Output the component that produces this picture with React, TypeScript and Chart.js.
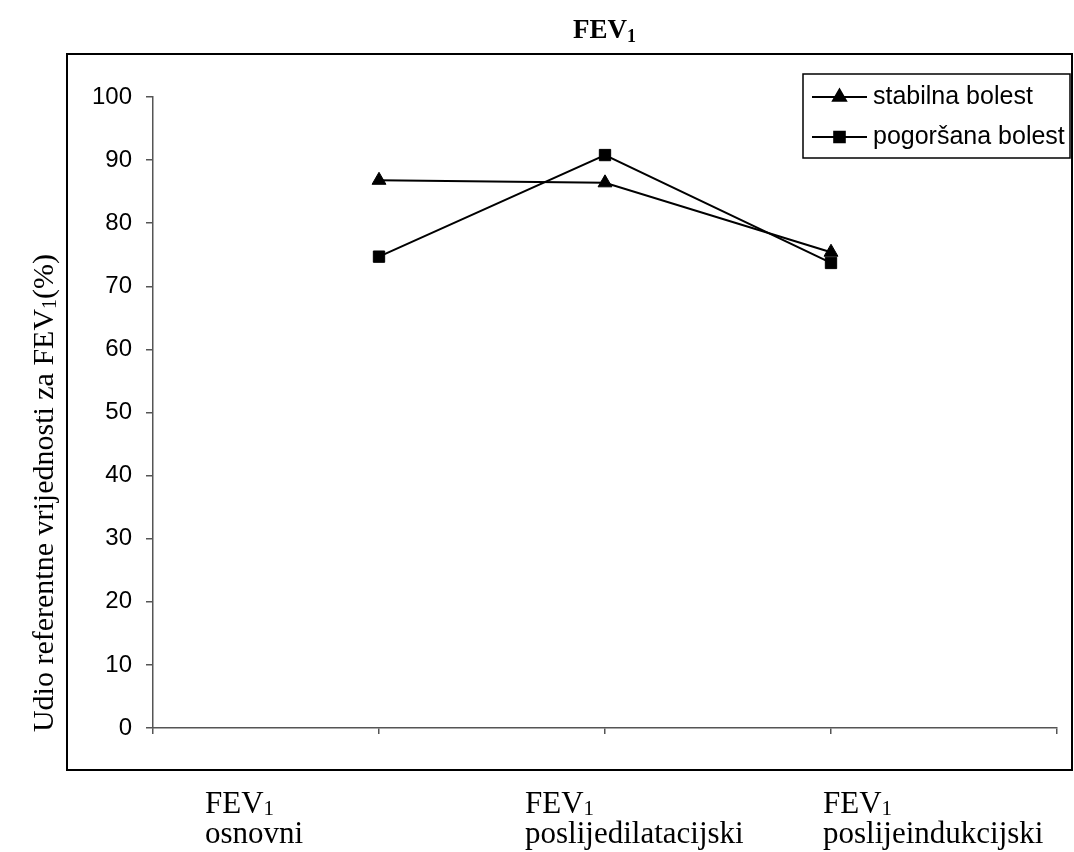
import React, { useEffect, useRef } from 'react';
import { Chart, registerables } from 'chart.js';
import { drawPoint } from 'chart.js/helpers';

Chart.register(...registerables);

// ---------- data ----------
const slots = ['', 'osnovni', 'poslijedilatacijski', 'poslijeindukcijski', ''];
const categoryNames = ['osnovni', 'poslijedilatacijski', 'poslijeindukcijski'];
const seriesNames = ['stabilna bolest', 'pogoršana bolest'];
const stabilna = [null, 86.8, 86.4, 75.4, null];
const pogorsana = [null, 74.7, 90.8, 73.7, null];
const yTickValues = [0, 10, 20, 30, 40, 50, 60, 70, 80, 90, 100];
const titleMain = 'FEV';
const subOne = '1';
const yTitleStart = 'Udio referentne vrijednosti za FEV';
const yTitleEnd = '(%)';

const SERIF = '"Liberation Serif", "Times New Roman", serif';
const SANS = '"Liberation Sans", Arial, sans-serif';

type Seg = { t: string; font: string; dy: number };

function segsWidth(ctx: CanvasRenderingContext2D, segs: Seg[]) {
  let w = 0;
  for (const s of segs) {
    ctx.font = s.font;
    w += ctx.measureText(s.t).width;
  }
  return w;
}

function drawSegs(ctx: CanvasRenderingContext2D, segs: Seg[], x: number, y: number) {
  let cx = x;
  for (const s of segs) {
    ctx.font = s.font;
    ctx.fillText(s.t, cx, y + s.dy);
    cx += ctx.measureText(s.t).width;
  }
}

const decorPlugin = {
  id: 'decor',
  afterDraw(chart: any) {
    const ctx: CanvasRenderingContext2D = chart.ctx;
    ctx.save();
    ctx.fillStyle = '#000';
    ctx.strokeStyle = '#000';

    // outer plot box
    ctx.lineWidth = 2;
    ctx.strokeRect(67, 54, 1005, 716);

    // title
    ctx.textAlign = 'left';
    ctx.textBaseline = 'alphabetic';
    drawSegs(ctx, [
      { t: titleMain, font: `bold 27px ${SERIF}`, dy: 0 },
      { t: subOne, font: `bold 18px ${SERIF}`, dy: 4 },
    ], 573, 38);

    // y axis title (rotated)
    const ySegs: Seg[] = [
      { t: yTitleStart, font: `30px ${SERIF}`, dy: 0 },
      { t: subOne, font: `20px ${SERIF}`, dy: 3 },
      { t: yTitleEnd, font: `30px ${SERIF}`, dy: 0 },
    ];
    const yw = segsWidth(ctx, ySegs);
    ctx.save();
    ctx.translate(53, 493 + yw / 2);
    ctx.rotate(-Math.PI / 2);
    drawSegs(ctx, ySegs, 0, 0);
    ctx.restore();

    // bottom category labels
    const lefts = [205, 525, 823];
    categoryNames.forEach((name, i) => {
      drawSegs(ctx, [
        { t: titleMain, font: `31px ${SERIF}`, dy: 0 },
        { t: subOne, font: `21px ${SERIF}`, dy: 2 },
      ], lefts[i], 813);
      ctx.font = `31px ${SERIF}`;
      ctx.fillText(name, lefts[i], 843);
    });

    // legend
    ctx.lineWidth = 1.5;
    ctx.strokeRect(803, 74, 267, 84);
    const rows = [97, 137];
    chart.data.datasets.forEach((ds: any, i: number) => {
      const y = rows[i];
      ctx.lineWidth = 2;
      ctx.strokeStyle = '#000';
      ctx.beginPath();
      ctx.moveTo(812, y);
      ctx.lineTo(867, y);
      ctx.stroke();
      ctx.fillStyle = '#000';
      drawPoint(ctx, { pointStyle: ds.pointStyle, rotation: 0, radius: 7.5, borderWidth: 1 }, 839.5, y);
      ctx.fill();
      ctx.font = `25px ${SANS}`;
      ctx.textBaseline = 'middle';
      ctx.fillText(ds.label, 873, y);
      ctx.textBaseline = 'alphabetic';
    });

    ctx.restore();
  },
};

export default function App() {
  const ref = useRef<HTMLCanvasElement>(null);

  useEffect(() => {
    if (!ref.current) return;
    const chart = new Chart(ref.current, {
      type: 'line',
      data: {
        labels: slots,
        datasets: [
          {
            label: seriesNames[0],
            data: stabilna,
            borderColor: '#000',
            backgroundColor: '#000',
            borderWidth: 2,
            pointStyle: 'triangle',
            pointRadius: 8,
            pointBorderWidth: 1,
            pointBackgroundColor: '#000',
            pointBorderColor: '#000',
            tension: 0,
            spanGaps: false,
          },
          {
            label: seriesNames[1],
            data: pogorsana,
            borderColor: '#000',
            backgroundColor: '#000',
            borderWidth: 2,
            pointStyle: 'rect',
            pointRadius: 8,
            pointBorderWidth: 1,
            pointBackgroundColor: '#000',
            pointBorderColor: '#000',
            tension: 0,
            spanGaps: false,
          },
        ],
      },
      options: {
        responsive: false,
        animation: false,
        devicePixelRatio: 1,
        layout: { padding: { left: 0, top: 97, right: 17, bottom: 114 } },
        plugins: {
          legend: { display: false },
          title: { display: false },
          tooltip: { enabled: false },
        },
        scales: {
          x: {
            type: 'category',
            offset: false,
            grid: {
              drawOnChartArea: false,
              drawTicks: true,
              tickLength: 6,
              color: '#555',
              lineWidth: 1.5,
            },
            border: { display: true, color: '#555', width: 1.5 },
            ticks: { display: true, callback: () => '', autoSkip: false, maxRotation: 0 },
            afterFit: (scale: any) => { scale.height = 10; },
          },
          y: {
            min: 0,
            max: 100,
            afterBuildTicks: (scale: any) => {
              scale.ticks = yTickValues.map((v) => ({ value: v }));
            },
            grid: {
              drawOnChartArea: false,
              drawTicks: true,
              tickLength: 7,
              color: '#555',
              lineWidth: 1.5,
            },
            border: { display: true, color: '#555', width: 1.5 },
            ticks: {
              color: '#000',
              padding: 14,
              font: { family: SANS, size: 24 },
            },
            afterFit: (scale: any) => { scale.width = 153; },
          },
        },
      },
      plugins: [decorPlugin],
    });
    return () => chart.destroy();
  }, []);

  return (
    <div style={{ position: 'absolute', left: 0, top: 0, width: 1074, height: 852, background: '#fff' }}>
      <canvas ref={ref} width={1074} height={852} style={{ display: 'block', width: 1074, height: 852 }} />
    </div>
  );
}
